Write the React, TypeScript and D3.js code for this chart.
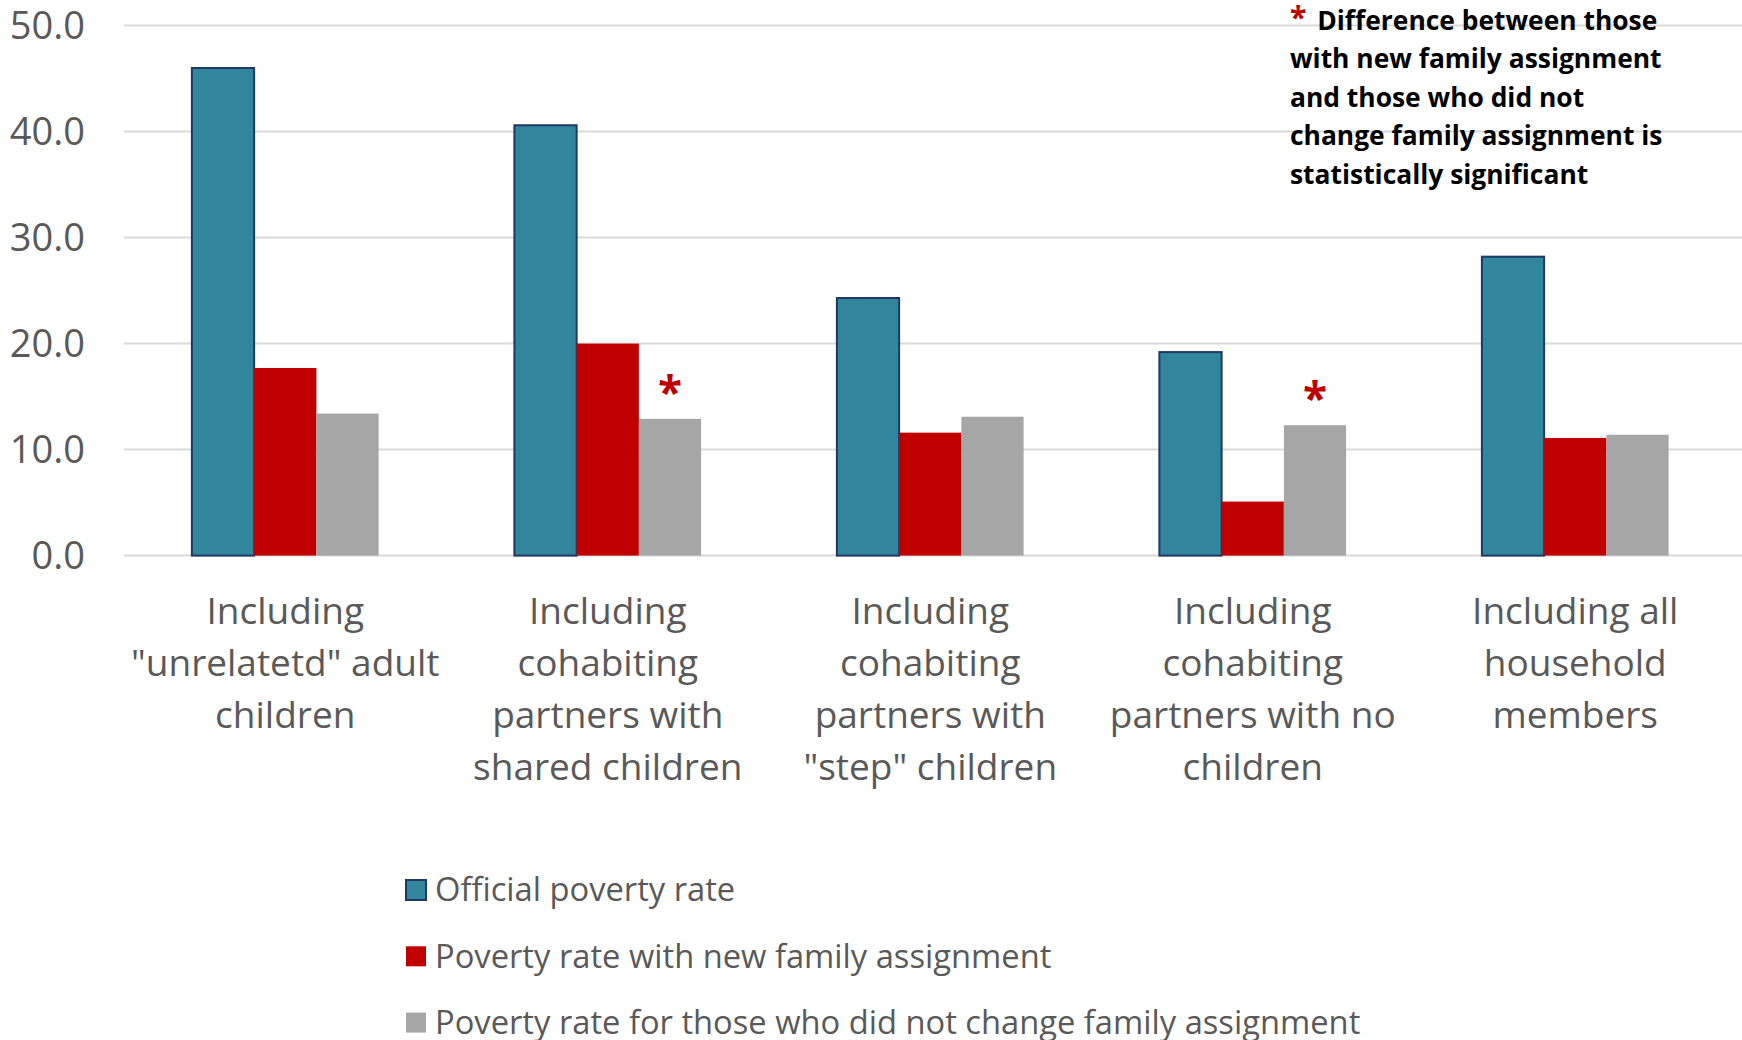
import React from "react";
import * as d3 from "d3";

const categories: string[][] = [
  ["Including", "\"unrelatetd\" adult", "children"],
  ["Including", "cohabiting", "partners with", "shared children"],
  ["Including", "cohabiting", "partners with", "\"step\" children"],
  ["Including", "cohabiting", "partners with no", "children"],
  ["Including all", "household", "members"],
];

const seriesNames = [
  "Official poverty rate",
  "Poverty rate with new family assignment",
  "Poverty rate for those who did not change family assignment",
];

const officialRate = [46.0, 40.6, 24.3, 19.2, 28.2];
const newFamilyRate = [17.7, 20.0, 11.6, 5.1, 11.1];
const unchangedRate = [13.4, 12.9, 13.1, 12.3, 11.4];
const significant = [false, true, false, true, false];

const yTicks = [0, 10, 20, 30, 40, 50];

const noteLines = [
  "Difference between those",
  "with new family assignment",
  "and those who did not",
  "change family assignment is",
  "statistically significant",
];

const colors = ["#31859C", "#C00000", "#A6A6A6"];
const strokes = ["#1F3864", "none", "none"];
const FONT = "'Open Sans', 'DejaVu Sans', sans-serif";
const TEXT = "#595959";

export default function App() {
  const W = 1742;
  const H = 1040;
  const left = 124;
  const right = 1736.5;
  const gridRight = 1742;
  const top = 25.6;
  const bottom = 555.6;

  const seriesData = [officialRate, newFamilyRate, unchangedRate];

  const x = d3
    .scaleBand<number>()
    .domain(categories.map((_, i) => i))
    .range([left, right])
    .padding(0);
  const groupW = x.bandwidth() * 0.579;
  const x1 = d3
    .scaleBand<number>()
    .domain(seriesNames.map((_, i) => i))
    .range([0, groupW])
    .padding(0);
  const y = d3.scaleLinear().domain([0, 50]).range([bottom, top]);

  return (
    <svg
      width={W}
      height={H}
      style={{ position: "absolute", left: 0, top: 0, display: "block", background: "#fff" }}
    >
      {yTicks.map((t) => (
        <line
          key={"g" + t}
          x1={left}
          x2={gridRight}
          y1={y(t)}
          y2={y(t)}
          stroke="#D9D9D9"
          strokeWidth={2}
        />
      ))}
      {yTicks.map((t) => (
        <text
          key={"yt" + t}
          x={85}
          y={y(t)}
          dy="0.36em"
          textAnchor="end"
          fontFamily={FONT}
          fontSize={38}
          fill={TEXT}
        >
          {t.toFixed(1)}
        </text>
      ))}
      {categories.map((_, ci) => {
        const gx = (x(ci) as number) + (x.bandwidth() - groupW) / 2;
        return (
          <g key={"grp" + ci}>
            {seriesData.map((arr, si) => (
              <rect
                key={"b" + si}
                x={gx + (x1(si) as number)}
                y={y(arr[ci])}
                width={x1.bandwidth()}
                height={y(0) - y(arr[ci])}
                fill={colors[si]}
                stroke={strokes[si]}
                strokeWidth={si === 0 ? 2 : 0}
              />
            ))}
            {significant[ci] && (
              <text
                x={gx + (x1(2) as number) + x1.bandwidth() / 2}
                y={y(unchangedRate[ci]) - 11}
                textAnchor="middle"
                fontFamily={FONT}
                fontWeight="bold"
                fontSize={44}
                fill="#C00000"
              >
                *
              </text>
            )}
          </g>
        );
      })}
      {categories.map((lines, ci) => {
        const cx = (x(ci) as number) + x.bandwidth() / 2;
        return (
          <text
            key={"cl" + ci}
            textAnchor="middle"
            fontFamily={FONT}
            fontSize={37}
            fill={TEXT}
          >
            {lines.map((ln, li) => (
              <tspan key={li} x={cx} y={624 + li * 52}>
                {ln}
              </tspan>
            ))}
          </text>
        );
      })}
      <text fontFamily={FONT} fontWeight="bold" fontSize={26.4} fill="#000">
        {noteLines.map((ln, li) =>
          li === 0 ? (
            <tspan key={li} x={1290} y={29.6}>
              <tspan fill="#C00000" fontSize={30} dy={-2}>*</tspan>
              <tspan dy={2} dx={4}>{" " + ln}</tspan>
            </tspan>
          ) : (
            <tspan key={li} x={1290} y={29.6 + li * 38.6}>
              {ln}
            </tspan>
          )
        )}
      </text>
      {seriesNames.map((name, si) => {
        const cy = 890 + si * 66.3;
        return (
          <g key={"lg" + si}>
            <rect
              x={406}
              y={cy - 10}
              width={20}
              height={20}
              fill={colors[si]}
              stroke={strokes[si]}
              strokeWidth={si === 0 ? 2 : 0}
            />
            <text
              x={435}
              y={cy}
              dy="0.35em"
              fontFamily={FONT}
              fontSize={32.7}
              fill={TEXT}
            >
              {name}
            </text>
          </g>
        );
      })}
    </svg>
  );
}
